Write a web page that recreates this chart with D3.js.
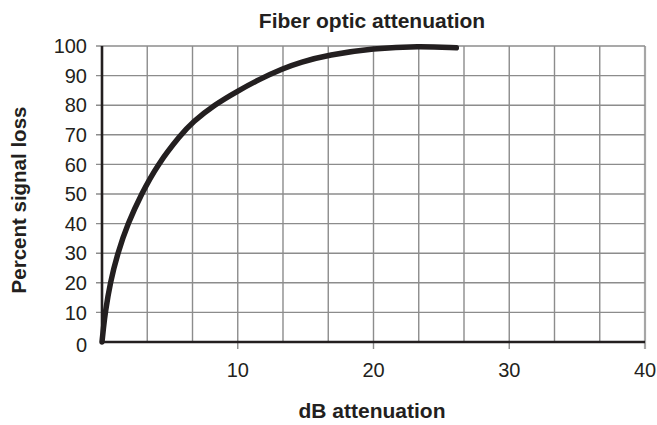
<!DOCTYPE html>
<html>
<head>
<meta charset="utf-8">
<script src="https://cdn.jsdelivr.net/npm/d3@7"></script>
<style>
  body { margin: 0; background: #fff; }
  svg { display: block; font-family: "Liberation Sans", Arial, Helvetica, sans-serif; }
</style>
</head>
<body>
<script>
// values
var attenuation = [0, 0.1, 0.24, 0.6, 1.15, 1.9, 2.9, 4.1, 5.8, 6.67, 8.3, 10, 11.6, 13.33, 14.6, 16.67, 20, 23.33, 26.1];
var signalLoss  = [0, 4.5, 10, 20, 30, 40, 50, 60, 70, 74.3, 80.2, 84.8, 88.8, 92.4, 94.5, 97, 99.2, 100, 99.4];

var xTicks = [10, 20, 30, 40];
var yTicks = [0, 10, 20, 30, 40, 50, 60, 70, 80, 90, 100];
var xGrid = [3.333, 6.667, 10, 13.333, 16.667, 20, 23.333, 26.667, 30, 33.333, 36.667, 40];

var width = 657, height = 425;

var svg = d3.select("body").append("svg")
    .attr("width", width)
    .attr("height", height);

var x = d3.scaleLinear().domain([0, 40]).range([102, 645]);
var y = d3.scaleLinear().domain([0, 100]).range([342, 46]);

//grid
var grid = svg.append("g");

grid.selectAll("line.v")
    .data(xGrid)
    .enter().append("line")
    .attr("class", "v")
    .attr("x1", d => x(d)).attr("x2", d => x(d))
    .attr("y1", y(100))
    .attr("y2", d => xTicks.indexOf(d) >= 0 ? y(0) + 7 : y(0))
    .attr("stroke", d => d === 40 ? "#a6a6a6" : "#8c8c8c")
    .attr("stroke-width", d => d === 40 ? 2.2 : 1.4);

grid.selectAll("line.h")
    .data(yTicks.slice(1))
    .enter().append("line")
    .attr("class", "h")
    .attr("x1", x(0) - 6).attr("x2", x(40))
    .attr("y1", d => y(d)).attr("y2", d => y(d))
    .attr("stroke", "#8c8c8c")
    .attr("stroke-width", 1.4);

//axes
svg.append("line")
    .attr("x1", x(0)).attr("x2", x(0))
    .attr("y1", y(100)).attr("y2", y(0) + 1)
    .attr("stroke", "#231f20").attr("stroke-width", 2.6);

svg.append("line")
    .attr("x1", x(0) - 1).attr("x2", x(40))
    .attr("y1", y(0)).attr("y2", y(0))
    .attr("stroke", "#231f20").attr("stroke-width", 2.6);

//tick labels
svg.append("g").selectAll("text")
    .data(yTicks)
    .enter().append("text")
    .attr("x", 87)
    .attr("y", d => d === 0 ? y(0) + 3 : y(d))
    .attr("dy", "0.36em")
    .attr("text-anchor", "end")
    .style("font-size", "20px")
    .style("fill", "#231f20")
    .text(d => d);

svg.append("g").selectAll("text")
    .data(xTicks)
    .enter().append("text")
    .attr("x", d => x(d))
    .attr("y", 370)
    .attr("dy", "0.36em")
    .attr("text-anchor", "middle")
    .style("font-size", "20px")
    .style("fill", "#231f20")
    .text(d => d);

//titles
svg.append("text")
    .attr("x", 372).attr("y", 28)
    .attr("text-anchor", "middle")
    .style("font-size", "21px").style("font-weight", "bold")
    .style("fill", "#231f20")
    .text("Fiber optic attenuation");

svg.append("text")
    .attr("x", 372).attr("y", 418)
    .attr("text-anchor", "middle")
    .style("font-size", "21px").style("font-weight", "bold")
    .style("fill", "#231f20")
    .text("dB attenuation");

svg.append("text")
    .attr("transform", "translate(26,200) rotate(-90)")
    .attr("text-anchor", "middle")
    .style("font-size", "20.5px").style("font-weight", "bold")
    .style("fill", "#231f20")
    .text("Percent signal loss");

//curve
var line = d3.line()
    .x(d => x(d[0]))
    .y(d => y(d[1]))
    .curve(d3.curveBasis);

svg.append("path")
    .datum(attenuation.map((a, i) => [a, signalLoss[i]]))
    .attr("d", line)
    .attr("fill", "none")
    .attr("stroke", "#231f20")
    .attr("stroke-width", 5.5)
    .attr("stroke-linecap", "round");
</script>
</body>
</html>
